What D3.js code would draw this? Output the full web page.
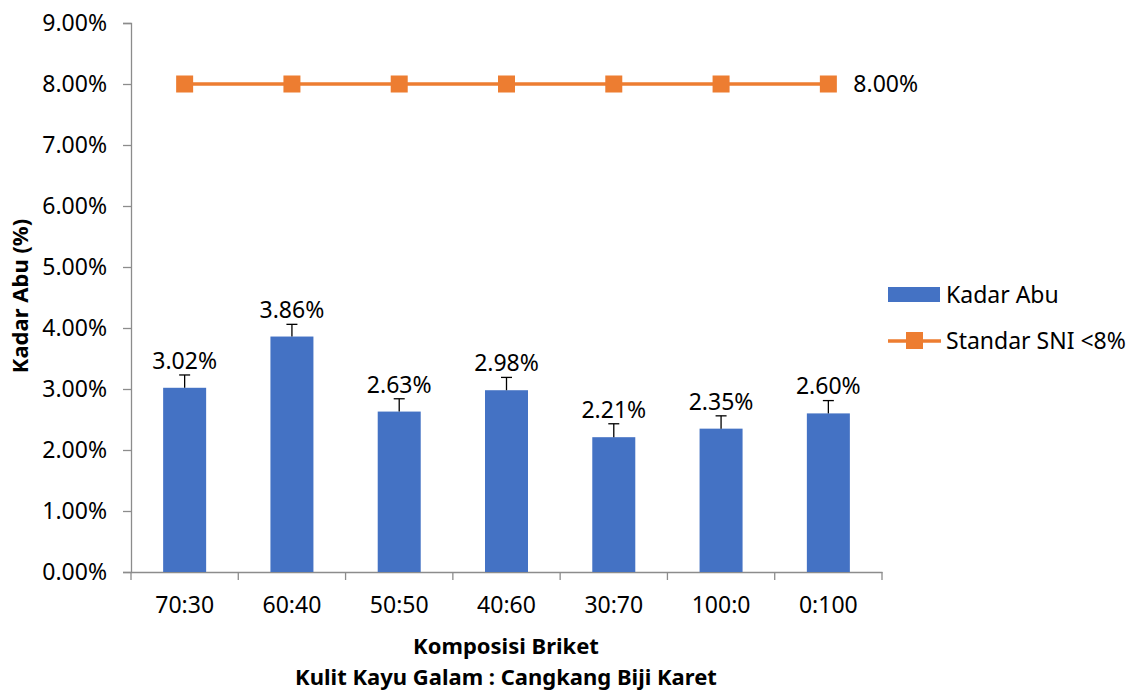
<!DOCTYPE html>
<html>
<head>
<meta charset="utf-8">
<script src="https://cdn.jsdelivr.net/npm/d3@7"></script>
<style>
  body { margin: 0; background: #fff; }
  svg text { font-family: "Noto Sans", "Open Sans", sans-serif; fill: #000; }
</style>
</head>
<body>
<svg id="chart" width="1127" height="690"></svg>
<script>
// komposisi briket (kulit kayu galam : cangkang biji karet)
const categories = ["70:30", "60:40", "50:50", "40:60", "30:70", "100:0", "0:100"];
const kadarAbu = [3.02, 3.86, 2.63, 2.98, 2.21, 2.35, 2.60];
const errorBars = [0.21, 0.20, 0.21, 0.21, 0.22, 0.21, 0.21];
const standarSNI = [8, 8, 8, 8, 8, 8, 8];
const yTicks = [0, 1, 2, 3, 4, 5, 6, 7, 8, 9];

const svg = d3.select("#chart");

const x = d3.scaleBand()
    .domain(categories)
    .range([131, 882]);

const y = d3.scaleLinear()
    .domain([0, 9])
    .range([572, 23]);

const fmt = d => d.toFixed(2) + "%";
const fs = "23px";

// y axis
const yAxis = svg.append("g")
    .attr("transform", "translate(131,0)")
    .call(d3.axisLeft(y).tickValues(yTicks).tickFormat(fmt).tickSizeOuter(0).tickSize(8).tickPadding(16));
yAxis.select(".domain").attr("stroke", "#8c8c8c").attr("stroke-width", 1.3);
yAxis.selectAll(".tick line").attr("stroke", "#8c8c8c").attr("stroke-width", 1.3);
yAxis.selectAll(".tick text").style("font-size", fs).attr("fill", "#000");

// x axis
const xAxis = svg.append("g")
    .attr("transform", "translate(0,572)")
    .call(d3.axisBottom(x).tickSize(0).tickPadding(25));
xAxis.select(".domain").attr("stroke", "#8c8c8c").attr("stroke-width", 1.3);
xAxis.selectAll(".tick text").style("font-size", fs).attr("fill", "#000");

// category separators on the x axis
const bounds = categories.map(c => x(c)).concat([x.range()[1]]);
svg.append("g").selectAll("line")
    .data(bounds)
    .join("line")
    .attr("x1", d => d).attr("x2", d => d)
    .attr("y1", 572).attr("y2", 580)
    .attr("stroke", "#8c8c8c")
    .attr("stroke-width", 1.3);

// bars
const barW = 43;
svg.append("g").selectAll("rect")
    .data(kadarAbu)
    .join("rect")
    .attr("x", (d, i) => x(categories[i]) + x.bandwidth() / 2 - barW / 2)
    .attr("y", d => y(d))
    .attr("width", barW)
    .attr("height", d => y(0) - y(d))
    .attr("fill", "#4472c4");

// error bars (plus only)
const eb = svg.append("g").attr("stroke", "#000").attr("stroke-width", 1.3);
kadarAbu.forEach((d, i) => {
    const cx = x(categories[i]) + x.bandwidth() / 2;
    eb.append("line").attr("x1", cx).attr("x2", cx).attr("y1", y(d)).attr("y2", y(d + errorBars[i]));
    eb.append("line").attr("x1", cx - 5.5).attr("x2", cx + 5.5).attr("y1", y(d + errorBars[i])).attr("y2", y(d + errorBars[i]));
});

// bar labels
svg.append("g").selectAll("text")
    .data(kadarAbu)
    .join("text")
    .attr("x", (d, i) => x(categories[i]) + x.bandwidth() / 2)
    .attr("y", d => y(d) - 19)
    .attr("text-anchor", "middle")
    .style("font-size", fs)
    .text(fmt);

// standard SNI line
const line = d3.line()
    .x((d, i) => x(categories[i]) + x.bandwidth() / 2)
    .y(d => y(d));
svg.append("path")
    .datum(standarSNI)
    .attr("d", line)
    .attr("fill", "none")
    .attr("stroke", "#ed7d31")
    .attr("stroke-width", 3.5);
svg.append("g").selectAll("rect")
    .data(standarSNI)
    .join("rect")
    .attr("x", (d, i) => x(categories[i]) + x.bandwidth() / 2 - 8.5)
    .attr("y", d => y(d) - 8.5)
    .attr("width", 17)
    .attr("height", 17)
    .attr("fill", "#ed7d31");

// label on last point
const last = standarSNI.length - 1;
svg.append("text")
    .attr("x", x(categories[last]) + x.bandwidth() / 2 + 25)
    .attr("y", y(standarSNI[last]))
    .attr("dy", "0.35em")
    .style("font-size", fs)
    .text(fmt(standarSNI[last]));

// legend
const legend = svg.append("g");
legend.append("rect")
    .attr("x", 888).attr("y", 287).attr("width", 52).attr("height", 15)
    .attr("fill", "#4472c4");
legend.append("text")
    .attr("x", 946).attr("y", 295).attr("dy", "0.35em")
    .style("font-size", fs)
    .text("Kadar Abu");
legend.append("line")
    .attr("x1", 888).attr("x2", 941).attr("y1", 341).attr("y2", 341)
    .attr("stroke", "#ed7d31").attr("stroke-width", 3.5);
legend.append("rect")
    .attr("x", 906).attr("y", 332).attr("width", 17).attr("height", 17)
    .attr("fill", "#ed7d31");
legend.append("text")
    .attr("x", 946).attr("y", 341).attr("dy", "0.35em")
    .style("font-size", fs)
    .text("Standar SNI <8%");

// axis titles
svg.append("text")
    .attr("transform", "translate(28,296) rotate(-90)")
    .attr("text-anchor", "middle")
    .style("font-size", "22px")
    .style("font-weight", "bold")
    .text("Kadar Abu (%)");
svg.append("text")
    .attr("x", 506).attr("y", 654)
    .attr("text-anchor", "middle")
    .style("font-size", "22px")
    .style("font-weight", "bold")
    .text("Komposisi Briket");
svg.append("text")
    .attr("x", 506).attr("y", 685)
    .attr("text-anchor", "middle")
    .style("font-size", "22px")
    .style("font-weight", "bold")
    .text("Kulit Kayu Galam : Cangkang Biji Karet");
</script>
</body>
</html>
